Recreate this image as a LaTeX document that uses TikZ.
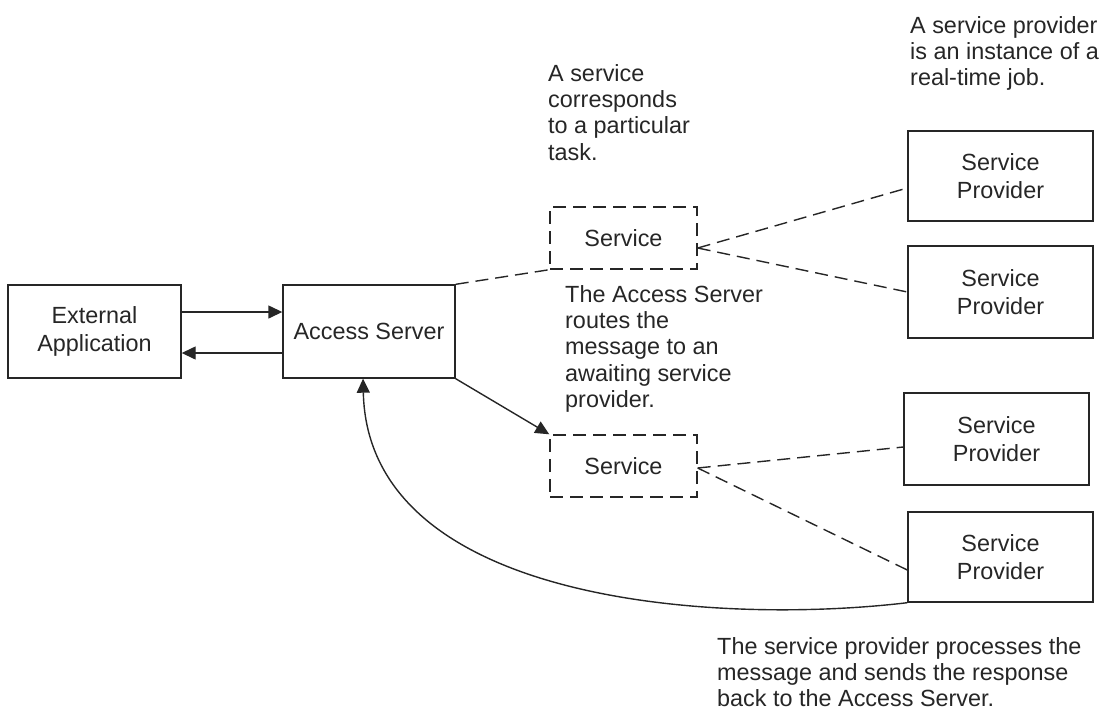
\documentclass[tikz,border=0pt]{standalone}
\usepackage{fontspec}
\setmainfont{Liberation Sans}
\usetikzlibrary{arrows.meta}
\begin{document}
\begin{tikzpicture}[x=1pt,y=-1pt,
  every node/.style={font=\fontsize{23.4}{28}\selectfont, text=black!85},
  blk/.style={draw=black!85, line width=1.4pt, align=center, inner sep=0pt},
  svc/.style={blk, dash pattern=on 13pt off 7pt},
  link/.style={draw=black!85, line width=1.4pt},
  dlink/.style={link, dash pattern=on 13pt off 7pt},
  arr/.style={link, -{Triangle[length=14pt,width=13pt]}},
  note/.style={anchor=north west, align=left, inner sep=0pt,
    font=\fontsize{23.4}{26.3}\selectfont}]
\useasboundingbox (0,0) rectangle (1106,713);

% main boxes
\node[blk, minimum width=173pt, minimum height=93pt] (ea) at (94.5,331.5) {External\\Application};
\node[blk, minimum width=172pt, minimum height=93pt] (as) at (369,331.5) {Access Server};

% services
\node[svc, minimum width=147pt, minimum height=62pt] (sv1) at (623.5,238) {Service};
\node[svc, minimum width=147pt, minimum height=62pt] (sv2) at (623.5,466) {Service};

% service providers
\node[blk, minimum width=185pt, minimum height=90pt] (sp1) at (1000.5,176) {Service\\Provider};
\node[blk, minimum width=185pt, minimum height=92pt] (sp2) at (1000.5,292) {Service\\Provider};
\node[blk, minimum width=185pt, minimum height=92pt] (sp3) at (996.5,439) {Service\\Provider};
\node[blk, minimum width=185pt, minimum height=90pt] (sp4) at (1000.5,557) {Service\\Provider};

% request and reply between the application and the server
\draw[arr] ([yshift=19.5pt]ea.east) -- ([yshift=19.5pt]as.west);
\draw[arr] ([yshift=-21.5pt]as.west) -- ([yshift=-21.5pt]ea.east);

% server to services
\draw[dlink] (as.north east) -- (sv1.south west);
\draw[arr] (as.south east) -- (sv2.north west);

% services to providers
\draw[dlink] ([yshift=-10pt]sv1.east) -- ([yshift=-12pt]sp1.west);
\draw[dlink] ([yshift=-10pt]sv1.east) -- (sp2.west);
\draw[dlink] ([yshift=-2pt]sv2.east) -- ([yshift=-8pt]sp3.west);
\draw[dlink] ([yshift=-2pt]sv2.east) -- ([yshift=-13pt]sp4.west);

% response back to the server
\draw[arr] (sp4.south west) .. controls (720,625) and (368,605) .. ([xshift=-6pt]as.south);

% notes
\node[note] (n1) at (548,64) {A service\\corresponds\\to a particular\\task.};
\node[note] (n2) at (565,285) {The Access Server\\routes the\\message to an\\awaiting service\\provider.};
\node[note] (n3) at (910,16) {A service provider\\is an instance of a\\real-time job.};
\node[note] (n4) at (717,637) {The service provider processes the\\message and sends the response\\back to the Access Server.};
\end{tikzpicture}
\end{document}
